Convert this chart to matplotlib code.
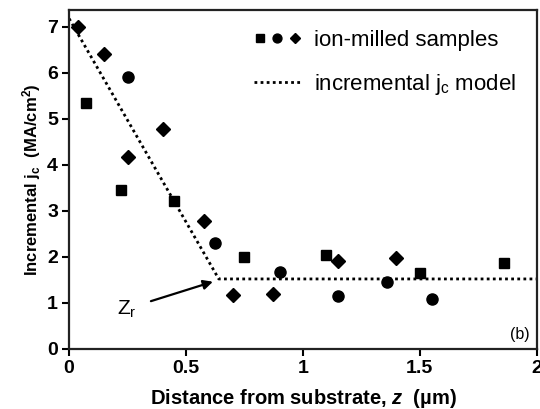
import numpy as np
import matplotlib.pyplot as plt
from matplotlib.legend_handler import HandlerTuple

plt.rcParams['font.family'] = ['Liberation Sans', 'DejaVu Sans']
plt.rcParams['mathtext.fontset'] = 'custom'
plt.rcParams['mathtext.rm'] = 'Liberation Sans'
plt.rcParams['mathtext.it'] = 'Liberation Sans:italic'
plt.rcParams['mathtext.bf'] = 'Liberation Sans:bold'
plt.rcParams['mathtext.bfit'] = 'Liberation Sans:bold:italic'

# ion-milled samples, three sample series
sq_z = [0.073, 0.22, 0.45, 0.75, 1.10, 1.50, 1.86]
sq_jc = [5.35, 3.46, 3.22, 2.00, 2.05, 1.66, 1.86]
ci_z = [0.25, 0.625, 0.90, 1.15, 1.36, 1.55]
ci_jc = [5.90, 2.30, 1.67, 1.15, 1.46, 1.09]
di_z = [0.04, 0.15, 0.25, 0.40, 0.575, 0.70, 0.87, 1.15, 1.40]
di_jc = [7.00, 6.41, 4.18, 4.78, 2.78, 1.17, 1.20, 1.91, 1.98]

# incremental jc model (piecewise)
model_z = [0.0, 0.64, 2.0]
model_jc = [7.18, 1.52, 1.52]

fig = plt.figure(figsize=(5.4, 4.09), dpi=100)
ax = fig.add_axes([0.128, 0.147, 0.866, 0.829])

hm, = ax.plot(model_z, model_jc, color='black', ls=(0, (1, 1.2)), lw=2.0)
hs, = ax.plot(sq_z, sq_jc, 's', color='black', ms=6.5, ls='none')
hc, = ax.plot(ci_z, ci_jc, 'o', color='black', ms=8, ls='none')
hd, = ax.plot(di_z, di_jc, 'D', color='black', ms=7, ls='none')

ax.legend([(hs, hc, hd), hm], ['ion-milled samples', 'incremental j$_\\mathrm{c}$ model'],
          handler_map={tuple: HandlerTuple(ndivide=None, pad=0.25)},
          loc='upper left', bbox_to_anchor=(0.395, 0.94), frameon=False,
          borderaxespad=0, borderpad=0,
          fontsize=16, handlelength=2.1, handletextpad=0.6, labelspacing=0.95,
          markerscale=0.8)

ax.annotate('Z$_\\mathrm{r}$', xy=(0.615, 1.46), xytext=(0.245, 0.87),
            fontsize=15, ha='center', va='center',
            arrowprops=dict(arrowstyle='-|>', color='black', lw=1.6,
                            mutation_scale=14, shrinkA=9, shrinkB=0))

ax.text(0.985, 0.02, '(b)', transform=ax.transAxes, ha='right', va='bottom', fontsize=11.5)

ax.set_xlim(0, 2)
ax.set_ylim(0, 7.37)
ax.set_xticks([0, 0.5, 1, 1.5, 2])
ax.set_xticklabels(['0', '0.5', '1', '1.5', '2'])
ax.set_yticks(range(0, 8))
ax.tick_params(axis='both', direction='out', length=5, width=1.5, labelsize=14, pad=3)
for lab in ax.get_xticklabels() + ax.get_yticklabels():
    lab.set_fontweight('bold')

for sp in ax.spines.values():
    sp.set_linewidth(1.6)
    sp.set_color('#222222')

ax.set_xlabel('Distance from substrate, $\\mathbfit{z}$  (\u00b5m)', fontsize=14.5, fontweight='bold', labelpad=7)
ax.set_ylabel('Incremental j$_\\mathbf{c}$  (MA/cm$^\\mathbf{2}$)', fontsize=12, fontweight='bold', labelpad=3)

fig.savefig('out.png', dpi=100)
